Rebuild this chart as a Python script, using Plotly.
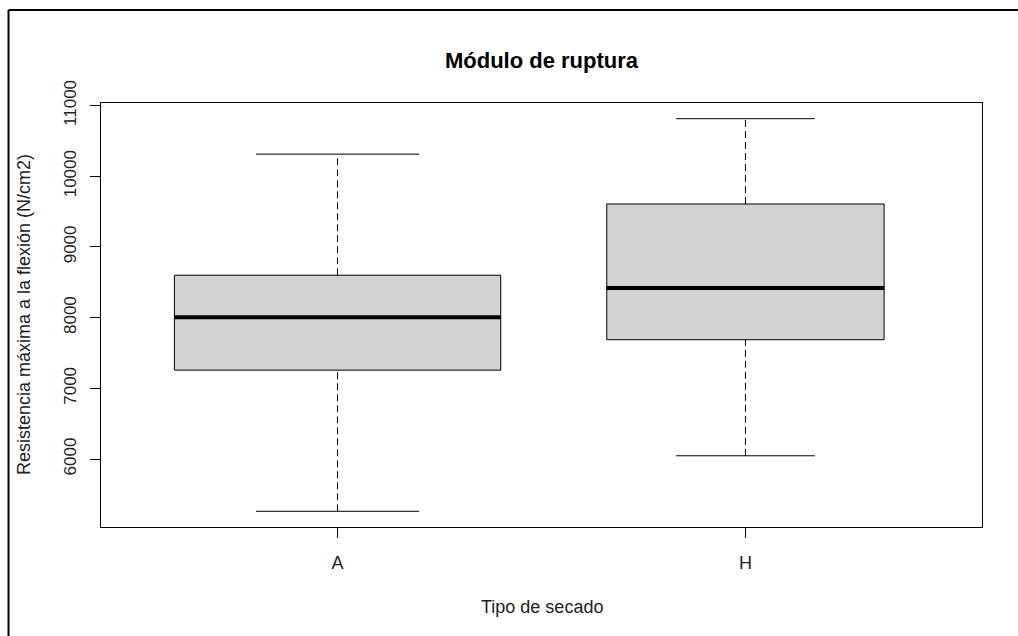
import plotly.graph_objects as go

# ---- data ----
categories = ["A", "H"]
lower_whisker = [5262, 6047]
q1 = [7258, 7688]
median = [8004, 8421]
q3 = [8600, 9607]
upper_whisker = [10312, 10813]
box_width = [0.80, 0.68]          # varwidth boxes (relative group sizes)
y_ticks = [6000, 7000, 8000, 9000, 10000, 11000]

title_text = "Módulo de ruptura"
x_title = "Tipo de secado"
y_title = "Resistencia máxima a la flexión (N/cm2)"

FONT = "Liberation Sans, Arial, sans-serif"

positions = [i + 1 for i in range(len(categories))]

fig = go.Figure()

for xi, lo, a, m, b, hi, w in zip(positions, lower_whisker, q1, median, q3, upper_whisker, box_width):
    # dashed whiskers
    for y0, y1 in ((b, hi), (lo, a)):
        fig.add_trace(go.Scatter(x=[xi, xi], y=[y0, y1], mode="lines",
                                 line=dict(color="black", width=1, dash="7px,4px"),
                                 hoverinfo="skip", showlegend=False))
    # whisker caps (half the box width)
    for yy in (lo, hi):
        fig.add_trace(go.Scatter(x=[xi - w / 4, xi + w / 4], y=[yy, yy], mode="lines",
                                 line=dict(color="black", width=1),
                                 hoverinfo="skip", showlegend=False))
    # box
    fig.add_trace(go.Box(
        x=[xi], q1=[a], median=[m], q3=[b],
        lowerfence=[a], upperfence=[b],
        width=w, whiskerwidth=0,
        fillcolor="#D3D3D3", line=dict(color="black", width=1),
        boxpoints=False, showlegend=False, hoverinfo="skip",
    ))
    # thick median
    fig.add_trace(go.Scatter(x=[xi - w / 2, xi + w / 2], y=[m, m], mode="lines",
                             line=dict(color="black", width=4),
                             hoverinfo="skip", showlegend=False))

ymin = min(lower_whisker)
ymax = max(upper_whisker)
pad = 0.04 * (ymax - ymin)

fig.update_layout(
    width=1018, height=636,
    margin=dict(l=101, r=36, t=103, b=109),
    paper_bgcolor="white", plot_bgcolor="white",
    font=dict(family=FONT, size=18, color="black"),
    title=dict(text="<b>" + title_text + "</b>", x=0.5, xref="paper",
               y=1 - 60 / 636, yref="container", xanchor="center", yanchor="middle",
               font=dict(family=FONT, size=22, color="black")),
    xaxis=dict(range=[0.42, len(categories) + 0.58],
               tickvals=positions, ticktext=categories,
               ticks="outside", ticklen=10, tickcolor="black",
               showline=True, linecolor="black", linewidth=1, mirror=True,
               showgrid=False, zeroline=False,
               tickfont=dict(size=18, color="#222"), ticklabelstandoff=9),
    yaxis=dict(range=[ymin - pad, ymax + pad],
               tickvals=y_ticks, ticktext=[str(t) for t in y_ticks],
               tickangle=-90,
               ticks="outside", ticklen=10, tickcolor="black",
               showline=True, linecolor="black", linewidth=1, mirror=True,
               showgrid=False, zeroline=False,
               tickfont=dict(size=17, color="#222"), ticklabelstandoff=7),
    annotations=[
        dict(text=x_title, xref="paper", yref="paper", x=0.5, y=(527 - 607) / 424,
             xanchor="center", yanchor="middle", showarrow=False,
             font=dict(size=18, color="#222")),
        dict(text=y_title, xref="paper", yref="paper", x=(24 - 101) / 881, y=0.5,
             xanchor="center", yanchor="middle", textangle=-90, showarrow=False,
             font=dict(size=18, color="#222")),
    ],
    shapes=[
        dict(type="line", xref="paper", yref="paper", x0=(8.5 - 101) / 881, x1=(8.5 - 101) / 881,
             y0=-0.4, y1=(527 - 10) / 424, line=dict(color="black", width=2)),
        dict(type="line", xref="paper", yref="paper", x0=(8.5 - 101) / 881, x1=1.1,
             y0=(527 - 10) / 424, y1=(527 - 10) / 424, line=dict(color="black", width=2)),
    ],
)

fig.write_html("out.html")
